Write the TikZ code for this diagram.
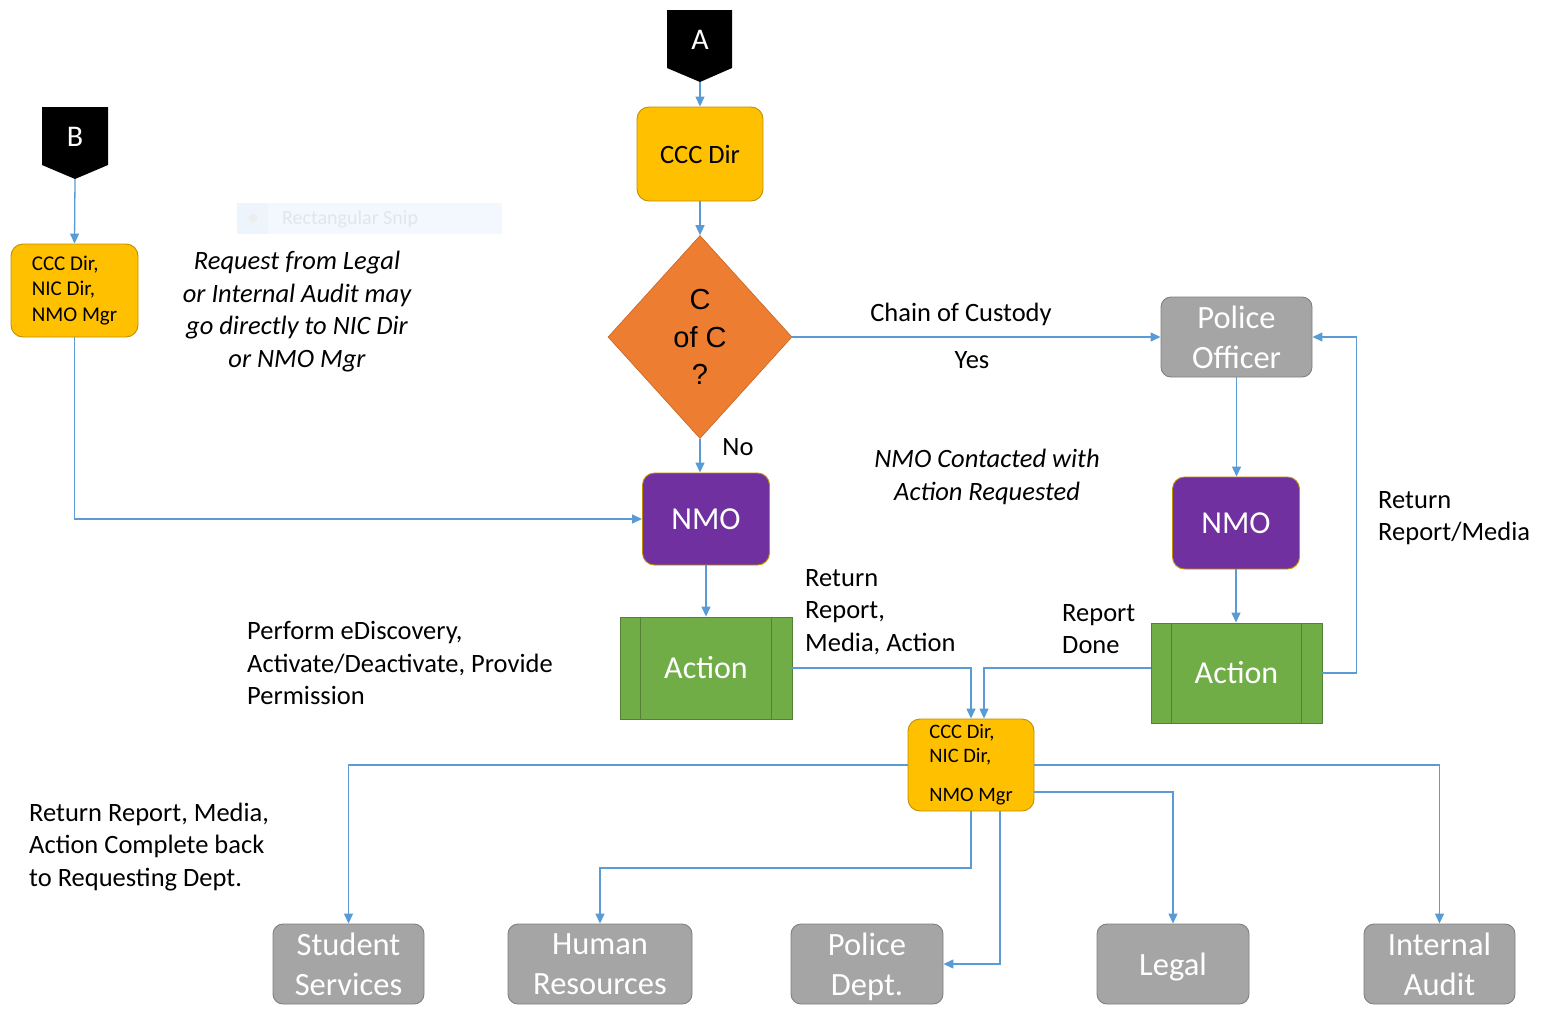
\documentclass[tikz,border=0pt]{standalone}
\usepackage{fontspec}
\setmainfont{Carlito}
\newfontfamily\arialf{Liberation Sans}
\usetikzlibrary{shapes.geometric,arrows.meta,calc}
\definecolor{gold}{HTML}{FFC000}
\definecolor{goldedge}{HTML}{C09000}
\definecolor{orng}{HTML}{ED7D31}
\definecolor{orngedge}{HTML}{C86424}
\definecolor{purp}{HTML}{7030A0}
\definecolor{purpedge}{HTML}{BF9000}
\definecolor{grn}{HTML}{70AD47}
\definecolor{grnedge}{HTML}{548235}
\definecolor{gry}{HTML}{A5A5A5}
\definecolor{gryedge}{HTML}{7F7F7F}
\definecolor{lineblue}{HTML}{5B9BD5}
\definecolor{snipbg}{HTML}{F3F8FE}
\definecolor{snipbg2}{HTML}{EEF4FC}
\definecolor{sniptext}{HTML}{E2E6EC}
\tikzset{
  conn/.style={draw=lineblue, line width=1.3pt, -{Triangle[length=10pt,width=9pt]}},
  box/.style={rectangle, rounded corners=12pt, inner sep=0pt, align=center, line width=0.9pt},
  goldbox/.style={box, fill=gold, draw=goldedge, text=black},
  purpbox/.style={box, fill=purp, draw=purpedge, text=white, font=\fontsize{32}{40}\selectfont, minimum width=127pt, minimum height=92pt},
  grybox/.style={box, rounded corners=10pt, fill=gry, draw=gryedge, text=white, font=\fontsize{32.5}{40}\selectfont, minimum height=80pt, text depth=0pt},
  actbox/.style={rectangle, inner sep=0pt, fill=grn, draw=grnedge, line width=0.9pt, text=white, font=\fontsize{32}{40}\selectfont},
  actline/.style={draw=grnedge, line width=0.9pt},
  offpage/.style={fill=black},
  offtext/.style={inner sep=0pt, text=white, font=\fontsize{30}{36}\selectfont},
  lbl/.style={inner sep=0pt, align=left, font=\fontsize{26.5}{32.5}\selectfont},
  note/.style={inner sep=0pt, align=center, font=\fontsize{26.5}{32.5}\selectfont\itshape},
}
\begin{document}
\begin{tikzpicture}[x=1pt,y=-1pt]
\useasboundingbox (0,0) rectangle (1547,1009);
\fill[white] (0,0) rectangle (1547,1009);

% faint screenshot overlay
\fill[snipbg] (237,203) rectangle (502,234);
\fill[snipbg2] (237,203) rectangle (268,234);
\fill[black!7] (253,218) circle (4.5pt);
\node[inner sep=0pt, anchor=west, text=sniptext, font=\fontsize{20}{24}\selectfont] (snip) at (282,219) {Rectangular Snip};

% off-page connectors
\fill[offpage] (667,10) -- (732,10) -- (732,68) -- (700,82) -- (667,68) -- cycle;
\node[offtext] (A) at (700,40) {A};
\coordinate (Atip) at (700,82);
\fill[offpage] (42,107) -- (108,107) -- (108,165) -- (75,179) -- (42,165) -- cycle;
\node[offtext] (B) at (75,137) {B};
\coordinate (Btip) at (75,179);

% main nodes
\node[goldbox, minimum width=126pt, minimum height=94pt, font=\fontsize{26.5}{32}\selectfont] (ccc) at (700,154) {CCC Dir};
\node[diamond, fill=orng, draw=orngedge, line width=0.6pt, minimum width=184pt, minimum height=203pt, inner sep=0pt, align=center, font=\arialf\fontsize{29}{37.5}\selectfont] (coc) at (700,337) {C\\of C\\?};
\node[goldbox, minimum width=127pt, minimum height=93pt, align=left, font=\fontsize{21}{25.5}\selectfont] (ccc1) at (74.5,290.5) {CCC Dir,\\NIC Dir,\\NMO Mgr};
\node[grybox, minimum width=151pt] (police) at (1236.5,337) {Police\\Officer};
\node[purpbox] (nmo1) at (706,519) {NMO};
\node[purpbox] (nmo2) at (1236,523) {NMO};
\node[actbox, minimum width=172pt, minimum height=102pt] (act1) at (706,668) {Action};
\node[actbox, minimum width=171pt, minimum height=100pt] (act2) at (1236.5,673) {Action};
\draw[actline] ([xshift=21pt]act1.north west) -- ([xshift=21pt]act1.south west);
\draw[actline] ([xshift=-21pt]act1.north east) -- ([xshift=-21pt]act1.south east);
\draw[actline] ([xshift=21pt]act2.north west) -- ([xshift=21pt]act2.south west);
\draw[actline] ([xshift=-21pt]act2.north east) -- ([xshift=-21pt]act2.south east);
\node[goldbox, minimum width=126pt, minimum height=92pt, align=left, font=\fontsize{20.5}{24}\selectfont] (ccc2) at (971,765) {CCC Dir,\\NIC Dir,\\[15pt]NMO Mgr};

% bottom departments
\node[grybox, minimum width=151pt] (ss) at (348.5,964) {Student\\Services};
\node[grybox, minimum width=184pt] (hr) at (600,964) {Human\\Resources};
\node[grybox, minimum width=152pt] (pd) at (867,964) {Police\\Dept.};
\node[grybox, minimum width=152pt] (legal) at (1173,964) {Legal};
\node[grybox, minimum width=151pt] (ia) at (1439.5,964) {Internal\\Audit};

% labels
\node[lbl] (lchain) at (961,314) {Chain of Custody};
\node[lbl] (lyes) at (972,360) {Yes};
\node[lbl] (lno) at (738,447) {No};
\node[note] (nreq) at (297,311.5) {Request from Legal\\or Internal Audit may\\go directly to NIC Dir\\or NMO Mgr};
\node[note] (ncont) at (987,477) {NMO Contacted with\\Action Requested};
\node[lbl, anchor=west] (lret2) at (1378,518) {Return\\Report/Media};
\node[lbl, anchor=west] (ldone) at (1062,629) {Report\\Done};
\node[lbl, anchor=west] (lret1) at (805,612) {Return\\Report,\\Media, Action};
\node[lbl, anchor=west] (lperf) at (247,663) {Perform eDiscovery,\\Activate/Deactivate, Provide\\Permission};
\node[lbl, anchor=west] (lback) at (29,847) {Return Report, Media,\\Action Complete back\\to Requesting Dept.};

% connectors
\draw[conn] (Atip) -- (ccc.north);
\draw[conn] (ccc.south) -- (coc.north);
\draw[conn] (coc.east) -- (coc.east -| police.west);
\draw[conn] (coc.south) -- (coc.south |- nmo1.north);
\draw[conn] (Btip) -- (ccc1.north);
\draw[conn] (ccc1.south) |- (nmo1.west);
\draw[conn] (nmo1.south) -- (act1.north);
\draw[conn] (police.south) -- (police.south |- nmo2.north);
\draw[conn] (nmo2.south) -- (nmo2.south |- act2.north);
\draw[conn] (act2.east) -- ++(34,0) |- (police.east);
\draw[conn] (act1.east) -| (ccc2.north);
\draw[conn] ([yshift=5pt]act2.west) -| ([xshift=13pt]ccc2.north);
\draw[conn] (ccc2.west) -| (ss.north);
\draw[conn] (ccc2.east) -| (ia.north);
\draw[conn] ([yshift=-27pt]ccc2.east) -| (legal.north);
\coordinate (hrbend) at (785,868);
\draw[conn] (ccc2.south) |- (hrbend) -| (hr.north);
\draw[conn] ([xshift=29pt]ccc2.south) |- (pd.east);
\end{tikzpicture}
\end{document}
